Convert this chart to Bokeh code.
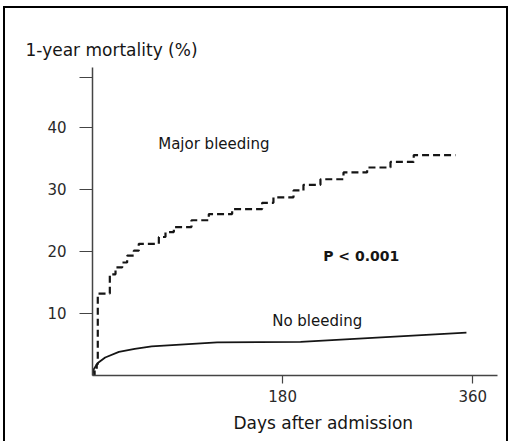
from bokeh.plotting import figure
from bokeh.models import Label, FixedTicker, Title
from bokeh.embed import file_html
from bokeh.resources import INLINE

# Cumulative 1-year mortality (%) by days after admission
major_days = [0, 2, 4, 5, 16.4, 21.8, 28.1, 32.8, 39.1, 43.8, 62.8, 69.1, 77.0,
              93.7, 110.1, 132.2, 160.6, 171.3, 190.3, 199.7, 215.8, 237.6,
              260.0, 282.1, 304.1, 343.6]
major_pct = [0, 0.8, 1.8, 13.2, 16.3, 17.4, 18.2, 19.3, 20.1, 21.2, 22.3, 23.1,
             23.9, 25.0, 26.0, 26.8, 27.8, 28.7, 29.8, 30.7, 31.6, 32.7, 33.5,
             34.4, 35.5, 35.5]

none_days = [0, 1.2, 5, 12, 25, 40, 56, 118, 197, 354]
none_pct = [0, 1.0, 2.0, 2.9, 3.8, 4.3, 4.7, 5.35, 5.4, 6.9]

x_ticks = [180, 360]
y_ticks = [10, 20, 30, 40]
y_top_tick = 48

FONT = "DejaVu Sans"
INK = "#151515"
AXIS = "#444444"

p = figure(width=510, height=441, output_backend="svg", toolbar_location=None,
           x_range=(0, 383.4), y_range=(0, 49.6),
           min_border_left=92, min_border_right=13,
           min_border_top=67, min_border_bottom=66)
p.outline_line_color = None
p.xgrid.visible = False
p.ygrid.visible = False
# transparent canvas so the page frame drawn on the host shows through
p.background_fill_color = None
p.border_fill_color = None
p.styles = {
    "background-color": "white",
    "background-image": ("linear-gradient(#000,#000), linear-gradient(#000,#000), "
                         "linear-gradient(#000,#000)"),
    "background-size": "2px 440px, 505px 2px, 2px 440px",
    "background-position": "3px 6px, 3px 6px, 506px 6px",
    "background-repeat": "no-repeat",
}

for ax in (p.xaxis[0], p.yaxis[0]):
    ax.axis_line_color = AXIS
    ax.axis_line_width = 1.5
    ax.major_tick_line_color = AXIS
    ax.major_tick_line_width = 1.2
    ax.major_tick_in = 0
    ax.minor_tick_line_color = None
    ax.major_label_text_font = FONT
    ax.major_label_text_font_size = "15px"
    ax.major_label_text_color = "#2a2a2a"

p.xaxis[0].ticker = FixedTicker(ticks=x_ticks)
p.xaxis[0].major_tick_out = 8
p.xaxis[0].major_label_standoff = 6

p.yaxis[0].ticker = FixedTicker(ticks=y_ticks + [y_top_tick])
p.yaxis[0].major_label_overrides = {y_top_tick: ""}
p.yaxis[0].major_tick_out = 13
p.yaxis[0].major_label_standoff = 13

# Axis titles
p.title.text = "1-year mortality (%)"
p.title.align = "left"
p.title.offset = -67
p.title.standoff = 15
p.title.text_font = FONT
p.title.text_font_size = "17px"
p.title.text_font_style = "normal"
p.title.text_color = INK

p.add_layout(Title(text="Days after admission", align="left", offset=141,
                   standoff=13, text_font=FONT, text_font_size="17px",
                   text_font_style="normal", text_color=INK), "below")

# Curves
p.step(major_days, major_pct, mode="after", line_color=INK, line_width=2.2,
       line_dash="7 4")
p.line(none_days, none_pct, line_color=INK, line_width=1.8)

def add_label(x, y, text, size, bold=False):
    p.add_layout(Label(x=x, y=y, text=text, text_font=FONT,
                       text_font_size=size, text_color=INK,
                       text_font_style="bold" if bold else "normal",
                       text_align="left", text_baseline="middle"))

add_label(62.2, 37.3, "Major bleeding", "15px")
add_label(170.1, 8.7, "No bleeding", "15px")
add_label(218.4, 19.3, "P < 0.001", "14px", bold=True)

open("out.html", "w").write(file_html(p, INLINE))
